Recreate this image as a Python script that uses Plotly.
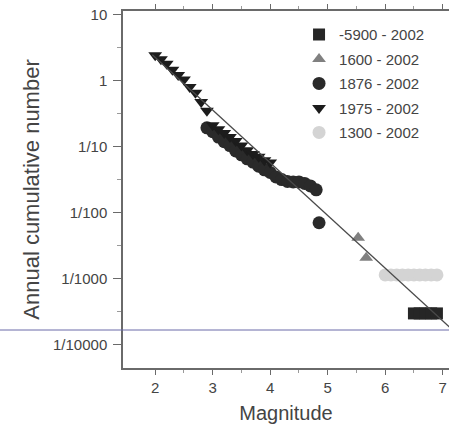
import plotly.graph_objects as go

# ---- data ----
sq_mag = [6.5, 6.6, 6.7, 6.8, 6.9]
sq_n = [0.0003, 0.0003, 0.0003, 0.0003, 0.0003]

tu_mag = [5.53, 5.67]
tu_n = [0.0042, 0.0021]

ci_mag = [2.9, 3.0, 3.1, 3.2, 3.3, 3.4, 3.5, 3.6, 3.7, 3.8, 3.9, 4.0, 4.1, 4.2, 4.3, 4.4, 4.5, 4.6, 4.7, 4.8, 4.85]
ci_n = [0.195, 0.170, 0.141, 0.120, 0.105, 0.087, 0.076, 0.066, 0.059, 0.051, 0.045, 0.041,
        0.035, 0.032, 0.030, 0.0295, 0.0295, 0.028, 0.0257, 0.0224, 0.0071]

td_mag = [2.0, 2.1, 2.2, 2.3, 2.4, 2.5, 2.6, 2.7, 2.8, 2.9, 3.0, 3.1, 3.2, 3.3, 3.4, 3.5, 3.6, 3.7, 3.8, 3.9, 4.0]
td_n = [2.45, 2.14, 1.82, 1.48, 1.23, 1.05, 0.81, 0.66, 0.48, 0.355, 0.214, 0.186, 0.162, 0.141,
        0.123, 0.105, 0.089, 0.078, 0.071, 0.063, 0.058]

lg_mag = [6.0, 6.1, 6.2, 6.3, 6.4, 6.5, 6.6, 6.7, 6.8, 6.9]
lg_n = [0.00115] * 10

fit_mag = [1.95, 7.2]
fit_n = [2.5, 0.00016]

series_names = ["-5900 - 2002", "1600 - 2002", "1876 - 2002", "1975 - 2002", "1300 - 2002"]

ytick_vals = [10, 1, 0.1, 0.01, 0.001, 0.0001]
ytick_text = ["10", "1", "1/10", "1/100", "1/1000", "1/10000"]
ytick_minor = [3.16, 0.316, 0.0316, 0.00316, 0.000316]
xtick_vals = [2, 3, 4, 5, 6, 7]
xtick_minor = [2.5, 3.5, 4.5, 5.5, 6.5]

FONT = "Arial, Liberation Sans, sans-serif"

fig = go.Figure()
fig.add_trace(go.Scatter(x=sq_mag, y=sq_n, mode="markers", name=series_names[0], legendgroup="a",
                         marker=dict(symbol="square", size=12, color="#262626")))
fig.add_trace(go.Scatter(x=tu_mag, y=tu_n, mode="markers", name=series_names[1], legendgroup="b",
                         marker=dict(symbol="triangle-up", size=12, color="#808080")))
fig.add_trace(go.Scatter(x=ci_mag, y=ci_n, mode="markers", name=series_names[2], legendgroup="c",
                         marker=dict(symbol="circle", size=13, color="#2a2a2a")))
fig.add_trace(go.Scatter(x=td_mag, y=td_n, mode="markers", name=series_names[3], legendgroup="d",
                         marker=dict(symbol="triangle-down", size=12, color="#1c1c1c")))
fig.add_trace(go.Scatter(x=lg_mag, y=lg_n, mode="markers", name=series_names[4], legendgroup="e",
                         marker=dict(symbol="circle", size=13, color="#d4d4d4")))
fig.add_trace(go.Scatter(x=fit_mag, y=fit_n, mode="lines", showlegend=False,
                         line=dict(color="#4a4a4a", width=1.3)))

fig.update_layout(
    width=449, height=427,
    margin=dict(l=123, r=0, t=11, b=59, autoexpand=False),
    paper_bgcolor="white", plot_bgcolor="white",
    font=dict(family=FONT, color="#333333"),
    showlegend=True,
    legend=dict(x=0.54, y=0.98, xanchor="left", yanchor="top",
                bgcolor="rgba(0,0,0,0)", font=dict(size=15, color="#444444"),
                traceorder="grouped", tracegroupgap=2, itemwidth=30),
    xaxis=dict(range=[1.44, 7.11], tickvals=xtick_vals, ticks="outside", ticklen=5,
               automargin=False,
               showline=True, linecolor="#6a6a6a", linewidth=1.5, mirror="ticks",
               tickcolor="#6a6a6a", showgrid=False, zeroline=False,
               tickfont=dict(size=15, color="#444444"),
               minor=dict(tickvals=xtick_minor, ticks="outside", ticklen=3, tickcolor="#9a9a9a"),
               title=dict(text="Magnitude", font=dict(size=20, color="#444444"), standoff=11)),
    yaxis=dict(type="log", range=[-4.35, 1.06], tickvals=ytick_vals, ticktext=ytick_text,
               automargin=False,
               ticks="outside", ticklen=8, showline=True, linecolor="#6a6a6a", linewidth=1.5,
               mirror="ticks", tickcolor="#6a6a6a", showgrid=False, zeroline=False,
               tickfont=dict(size=15, color="#444444"), ticklabelstandoff=3,
               minor=dict(tickvals=ytick_minor, ticks="outside", ticklen=4, tickcolor="#9a9a9a"),
               title=dict(text="Annual cumulative number", font=dict(size=22, color="#444444"), standoff=7)),
    shapes=[dict(type="line", xref="paper", yref="paper", x0=-0.5, x1=1.2, y0=0.1064, y1=0.1064,
                 line=dict(color="#6b6ba8", width=1))],
)

# remove the default page margin so the 449x427 figure fills the window exactly
fig.write_html("out.html", config={"responsive": False, "displayModeBar": False},
               post_script="document.body.style.margin='0';document.body.style.overflow='hidden';")
